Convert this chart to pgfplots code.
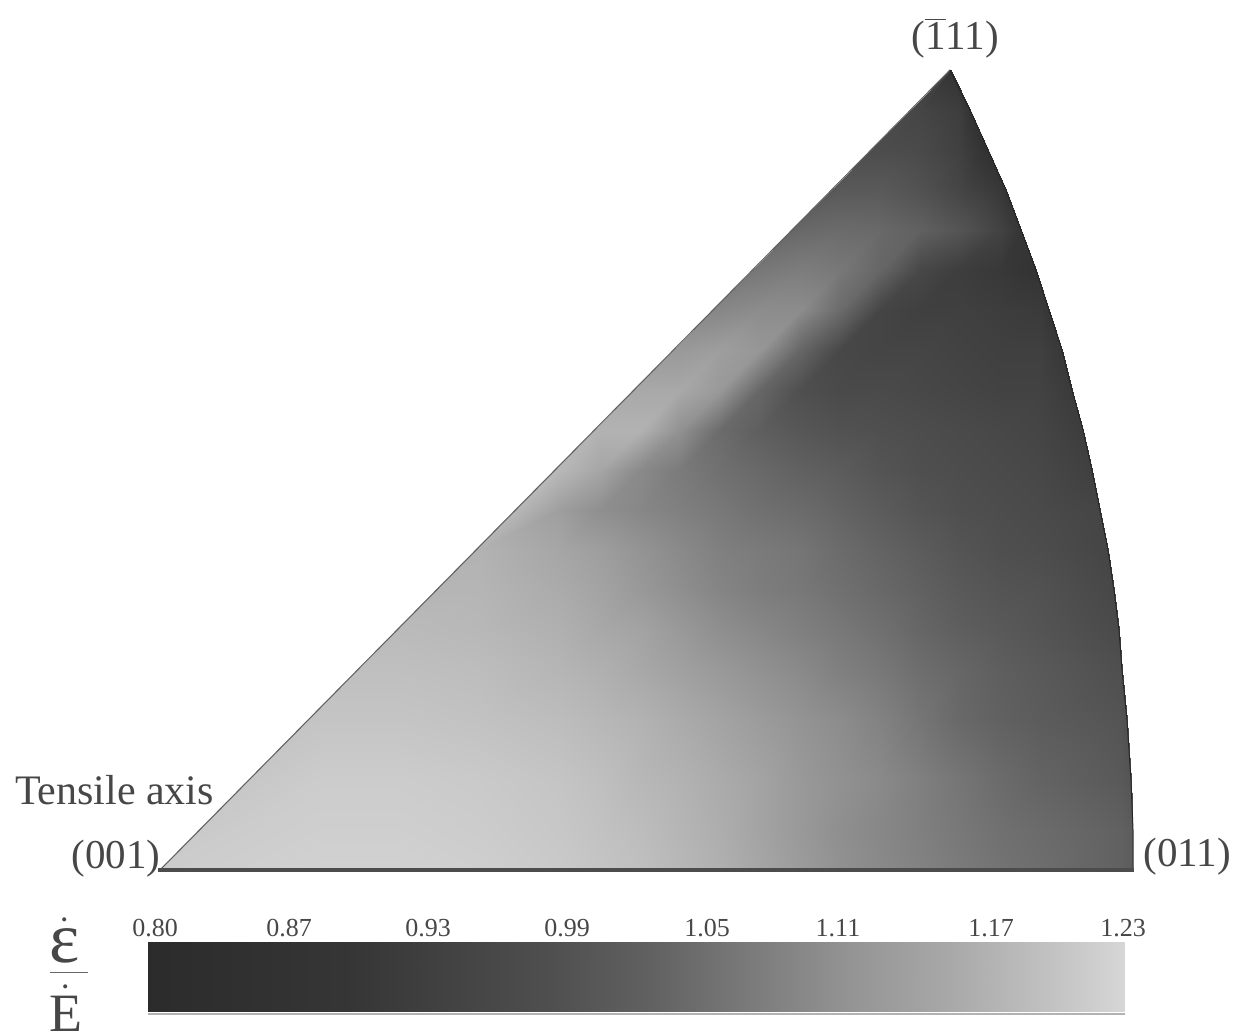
\documentclass[border=0pt]{standalone}
\usepackage{pgfplots}
\pgfplotsset{compat=1.18}
\usepackage{fontspec}
\setmainfont{Liberation Serif}
\definecolor{txt}{gray}{0.28}
\begin{document}
\begin{tikzpicture}
\begin{axis}[hide axis, scale only axis, width=619pt, height=518pt,
  xmin=0, xmax=1238, ymin=0, ymax=1036, y dir=reverse, clip=false,
  colormap={grays}{gray(0cm)=(0); gray(1cm)=(1)},
  point meta min=0, point meta max=1]
\path (axis cs:0,0) rectangle (axis cs:1238,1036);
% triangle field
\addplot[surf, shader=interp, mesh/cols=20, mesh/rows=20, point meta=explicit] coordinates {
(950,70)[.24](950,70)[.24](950,70)[.24](950,70)[.24](950,70)[.24](950,70)[.24](950,70)[.24](950,70)[.24](950,70)[.24](950,70)[.24](950,70)[.24](950,70)[.24](950,70)[.24](950,70)[.24](950,70)[.24](951,70)[.2](951,70)[.2](951,70)[.2](951,70)[.2](951,70)[.2]
(910.5,110)[.28](910.5,110)[.28](910.5,110)[.28](910.5,110)[.28](910.5,110)[.28](910.5,110)[.28](910.5,110)[.28](910.5,110)[.28](910.5,110)[.28](910.5,110)[.28](910.5,110)[.28](910.5,110)[.28](910.5,110)[.28](910.5,110)[.28](920,110)[.27](960,110)[.24](970,110)[.2](970,110)[.2](970,110)[.2](970,110)[.2]
(871,150)[.3](871,150)[.3](871,150)[.3](871,150)[.3](871,150)[.3](871,150)[.3](871,150)[.3](871,150)[.3](871,150)[.3](871,150)[.3](871,150)[.3](871,150)[.3](871,150)[.3](880,150)[.3](920,150)[.29](960,150)[.25](988,150)[.19](988,150)[.19](988,150)[.19](988,150)[.19]
(831.5,190)[.34](831.5,190)[.34](831.5,190)[.34](831.5,190)[.34](831.5,190)[.34](831.5,190)[.34](831.5,190)[.34](831.5,190)[.34](831.5,190)[.34](831.5,190)[.34](831.5,190)[.34](831.5,190)[.34](840,190)[.35](880,190)[.35](920,190)[.32](960,190)[.27](1000,190)[.22](1006,190)[.2](1006,190)[.2](1006,190)[.2]
(792,230)[.4](792,230)[.4](792,230)[.4](792,230)[.4](792,230)[.4](792,230)[.4](792,230)[.4](792,230)[.4](792,230)[.4](792,230)[.4](792,230)[.4](800,230)[.41](840,230)[.42](880,230)[.41](920,230)[.38](960,230)[.33](1000,230)[.26](1021,230)[.21](1021,230)[.21](1021,230)[.21]
(752.5,270)[.46](752.5,270)[.46](752.5,270)[.46](752.5,270)[.46](752.5,270)[.46](752.5,270)[.46](752.5,270)[.46](752.5,270)[.46](752.5,270)[.46](752.5,270)[.46](760,270)[.47](800,270)[.49](840,270)[.47](880,270)[.4](920,270)[.28](960,270)[.24](1000,270)[.22](1036,270)[.2](1036,270)[.2](1036,270)[.2]
(713,310)[.53](713,310)[.53](713,310)[.53](713,310)[.53](713,310)[.53](713,310)[.53](713,310)[.53](713,310)[.53](713,310)[.53](720,310)[.53](760,310)[.55](800,310)[.55](840,310)[.42](880,310)[.27](920,310)[.25](960,310)[.25](1000,310)[.24](1040,310)[.23](1049,310)[.21](1049,310)[.21]
(673.5,350)[.6](673.5,350)[.6](673.5,350)[.6](673.5,350)[.6](673.5,350)[.6](673.5,350)[.6](673.5,350)[.6](673.5,350)[.6](680,350)[.6](720,350)[.62](760,350)[.59](800,350)[.4](840,350)[.28](880,350)[.27](920,350)[.27](960,350)[.26](1000,350)[.25](1040,350)[.25](1062,350)[.22](1062,350)[.22]
(634,390)[.66](634,390)[.66](634,390)[.66](634,390)[.66](634,390)[.66](634,390)[.66](634,390)[.66](640,390)[.66](680,390)[.66](720,390)[.6](760,390)[.4](800,390)[.31](840,390)[.29](880,390)[.29](920,390)[.28](960,390)[.27](1000,390)[.26](1040,390)[.26](1072,390)[.23](1072,390)[.23]
(594.5,430)[.7](594.5,430)[.7](594.5,430)[.7](594.5,430)[.7](594.5,430)[.7](594.5,430)[.7](600,430)[.7](640,430)[.7](680,430)[.57](720,430)[.42](760,430)[.37](800,430)[.34](840,430)[.32](880,430)[.31](920,430)[.3](960,430)[.29](1000,430)[.28](1040,430)[.27](1083,430)[.24](1083,430)[.24]
(555,470)[.72](555,470)[.72](555,470)[.72](555,470)[.72](555,470)[.72](560,470)[.72](600,470)[.65](640,470)[.54](680,470)[.48](720,470)[.44](760,470)[.41](800,470)[.38](840,470)[.36](880,470)[.33](920,470)[.31](960,470)[.3](1000,470)[.29](1040,470)[.28](1092,470)[.25](1092,470)[.25]
(515.5,510)[.72](515.5,510)[.72](515.5,510)[.72](515.5,510)[.72](515.5,510)[.72](560,510)[.62](600,510)[.56](640,510)[.53](680,510)[.5](720,510)[.47](760,510)[.44](800,510)[.42](840,510)[.39](880,510)[.36](920,510)[.33](960,510)[.31](1000,510)[.3](1040,510)[.29](1100,510)[.27](1100,510)[.27]
(476,550)[.7](476,550)[.7](476,550)[.7](476,550)[.7](480,550)[.7](560,550)[.65](600,550)[.62](640,550)[.58](680,550)[.54](720,550)[.5](760,550)[.48](800,550)[.46](840,550)[.42](880,550)[.39](920,550)[.36](960,550)[.33](1000,550)[.31](1040,550)[.3](1108,550)[.27](1108,550)[.27]
(436.5,590)[.71](436.5,590)[.71](436.5,590)[.71](436.5,590)[.71](480,590)[.71](560,590)[.67](600,590)[.64](640,590)[.6](680,590)[.56](720,590)[.52](760,590)[.49](800,590)[.47](840,590)[.44](880,590)[.41](920,590)[.38](960,590)[.35](1000,590)[.33](1040,590)[.32](1114,590)[.28](1114,590)[.28]
(397,630)[.73](397,630)[.73](397,630)[.73](400,630)[.73](480,630)[.72](560,630)[.69](600,630)[.66](640,630)[.64](680,630)[.6](720,630)[.56](760,630)[.53](800,630)[.5](840,630)[.47](880,630)[.44](920,630)[.4](960,630)[.37](1000,630)[.35](1040,630)[.33](1119,630)[.29](1119,630)[.29]
(357.6,670)[.75](357.6,670)[.75](357.6,670)[.75](400,670)[.75](480,670)[.74](560,670)[.71](600,670)[.69](640,670)[.66](680,670)[.63](720,670)[.6](760,670)[.57](800,670)[.54](840,670)[.5](880,670)[.47](920,670)[.43](960,670)[.4](1000,670)[.37](1040,670)[.35](1120,670)[.31](1122,670)[.3]
(307.8,720)[.77](307.8,720)[.77](320,720)[.77](400,720)[.77](480,720)[.76](560,720)[.74](600,720)[.72](640,720)[.7](680,720)[.67](720,720)[.64](760,720)[.61](800,720)[.58](840,720)[.55](880,720)[.51](920,720)[.46](960,720)[.41](1000,720)[.38](1040,720)[.36](1120,720)[.33](1127,720)[.31]
(248.9,780)[.78](248.9,780)[.78](320,780)[.8](400,780)[.8](480,780)[.79](560,780)[.77](600,780)[.75](640,780)[.72](680,780)[.7](720,780)[.67](760,780)[.64](800,780)[.6](840,780)[.57](880,780)[.54](920,780)[.5](960,780)[.46](1000,780)[.42](1040,780)[.39](1120,780)[.35](1131,780)[.33]
(199.5,830)[.79](240,830)[.8](320,830)[.81](400,830)[.81](480,830)[.8](560,830)[.78](600,830)[.76](640,830)[.74](680,830)[.71](720,830)[.68](760,830)[.64](800,830)[.6](840,830)[.56](880,830)[.53](920,830)[.5](960,830)[.47](1000,830)[.44](1040,830)[.42](1120,830)[.38](1133,830)[.36]
(160,870)[.8](240,870)[.81](320,870)[.82](400,870)[.82](480,870)[.81](560,870)[.79](600,870)[.77](640,870)[.75](680,870)[.72](720,870)[.69](760,870)[.65](800,870)[.61](840,870)[.57](880,870)[.54](920,870)[.51](960,870)[.48](1000,870)[.45](1040,870)[.43](1120,870)[.38](1133,870)[.36]
};
% outline
\addplot[no marks, line width=0.55pt, color=black!62] coordinates {(160,870)(950,70)};
\addplot[no marks, line width=0.5pt, color=black!85] coordinates {(950,70)(970,110)(988,150)(1006,190)(1021,230)(1036,270)(1049,310)(1062,350)(1072,390)(1083,430)(1092,470)(1100,510)(1108,550)(1114,590)(1119,630)(1122,670)(1127,720)(1131,780)(1133,830)(1133,870)};
\addplot[no marks, line width=1.7pt, color=black!70] coordinates {(158,870)(1134,870)};
% colour scale
\addplot[surf, shader=interp, mesh/cols=11, mesh/rows=2, point meta=explicit] coordinates {
(148,942)[.17](250,942)[.19](350,942)[.21](450,942)[.26](550,942)[.31](650,942)[.38](750,942)[.48](850,942)[.58](950,942)[.66](1050,942)[.76](1125,942)[.84]
(148,1012)[.17](250,1012)[.19](350,1012)[.21](450,1012)[.26](550,1012)[.31](650,1012)[.38](750,1012)[.48](850,1012)[.58](950,1012)[.66](1050,1012)[.76](1125,1012)[.84]
};
\addplot[no marks, line width=0.9pt, color=black!30] coordinates {(148,1014)(1125,1014)};
% labels
\node[txt,font=\fontsize{20.5}{22}\selectfont] at (axis cs:955,38) {($\overline{\mbox{1}}$11)};
\node[txt,font=\fontsize{21}{22}\selectfont,anchor=west] at (axis cs:8,790) {Tensile axis};
\node[txt,font=\fontsize{20.5}{22}\selectfont] at (axis cs:116,859) {(001)};
\node[txt,font=\fontsize{20.5}{22}\selectfont] at (axis cs:1187,857) {(011)};
\node[txt,font=\fontsize{13}{14}\selectfont] at (axis cs:155,928) {0.80};
\node[txt,font=\fontsize{13}{14}\selectfont] at (axis cs:289,928) {0.87};
\node[txt,font=\fontsize{13}{14}\selectfont] at (axis cs:428,928) {0.93};
\node[txt,font=\fontsize{13}{14}\selectfont] at (axis cs:567,928) {0.99};
\node[txt,font=\fontsize{13}{14}\selectfont] at (axis cs:707,928) {1.05};
\node[txt,font=\fontsize{13}{14}\selectfont] at (axis cs:838,928) {1.11};
\node[txt,font=\fontsize{13}{14}\selectfont] at (axis cs:991,928) {1.17};
\node[txt,font=\fontsize{13}{14}\selectfont] at (axis cs:1123,928) {1.23};
\node[txt,font=\fontsize{36}{38}\selectfont,inner sep=0pt,anchor=south] at (axis cs:65,964) {$\dot{\mbox{ε}}$};
\addplot[no marks, line width=0.5pt, color=black!60] coordinates {(50,973)(88,973)};
\node[txt,font=\fontsize{27}{28}\selectfont,inner sep=0pt,anchor=south] at (axis cs:66,1032) {$\dot{\mbox{E}}$};
\end{axis}
\end{tikzpicture}
\end{document}
